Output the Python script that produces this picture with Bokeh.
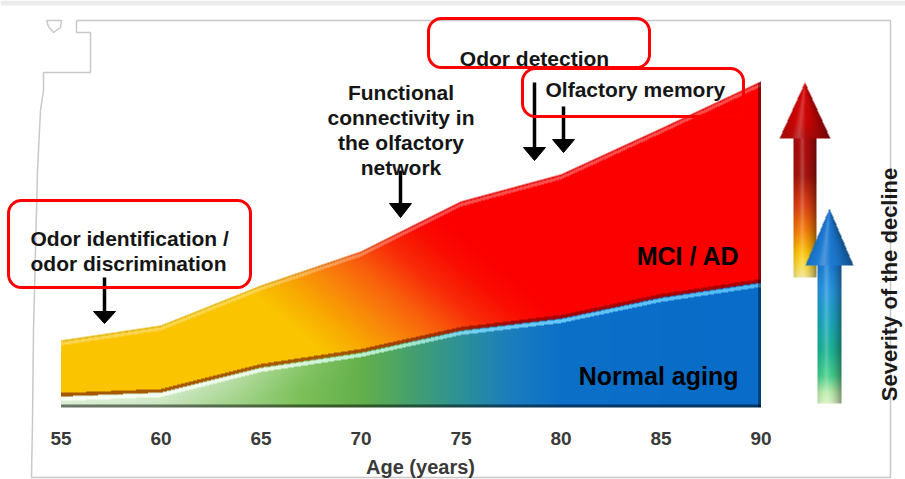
import numpy as np
from bokeh.plotting import figure
from bokeh.models import Range1d, BoxAnnotation
from bokeh.embed import file_html
from bokeh.resources import INLINE
from bokeh.core.properties import value

# ---------------- data ----------------
ages = [55, 60, 65, 70, 75, 80, 85, 90]
normal_aging = [11, 15, 40, 55, 77, 89, 110, 125]      # top of "Normal aging" band
mci_ad = [67, 82, 122, 156, 206, 233, 279, 326]        # top of "MCI / AD" band (stacked)
tick_labels = ["55", "60", "65", "70", "75", "80", "85", "90"]
x_title = "Age (years)"
y_title = "Severity of the decline"
band_labels = ["MCI / AD", "Normal aging"]
ann_ident = ["Odor identification /", "odor discrimination"]
ann_func = ["Functional", "connectivity in", "the olfactory", "network"]
ann_detect = "Odor detection"
ann_memory = "Olfactory memory"

FONT = value("Liberation Sans")

# ---------------- layout helpers (screen px -> data) ----------------
PXY = 20.0                      # px per year
X0 = 55 - 60.5 / PXY
BASE = 407.0


def X(px):
    return X0 + px / PXY


def Y(py):
    return BASE - py


p = figure(width=905, height=479, x_range=Range1d(X(0), X(905)),
           y_range=Range1d(Y(479), Y(0)), output_backend="svg",
           toolbar_location=None, tools="", min_border=0,
           x_axis_type=None, y_axis_type=None)
p.grid.visible = False
p.outline_line_color = None
p.background_fill_color = "white"
p.border_fill_color = "white"


def ramp(t, ts, cs):
    cs = np.asarray(cs, float)
    return np.stack([np.interp(t, ts, cs[:, k]) for k in range(3)], axis=-1)


def pack(rgb, alpha):
    h, w = alpha.shape
    img = np.empty((h, w), dtype=np.uint32)
    v = img.view(dtype=np.uint8).reshape((h, w, 4))
    rgb = np.clip(rgb, 0, 255)
    v[..., 0] = rgb[..., 0]
    v[..., 1] = rgb[..., 1]
    v[..., 2] = rgb[..., 2]
    v[..., 3] = np.clip(alpha, 0, 255)
    return img


# ---------------- frame decoration ----------------
p.quad(left=X(0), right=X(905), top=Y(0), bottom=Y(5), color="#ebebeb", line_color=None)
frame_px = [(76, 20), (890, 20), (890, 477), (31, 477), (32, 420), (33, 330), (35, 250),
            (37, 170), (40, 110), (43, 90), (43, 72), (90, 72), (90, 32), (76, 32), (76, 20)]
p.line([X(a) for a, b in frame_px], [Y(b) for a, b in frame_px], line_color="#c8c8c8", line_width=1.5)
notch_px = [(46, 20), (61, 20), (60, 27), (53, 32), (48, 26), (46, 20)]
p.line([X(a) for a, b in notch_px], [Y(b) for a, b in notch_px], line_color="#c8c8c8", line_width=1.5)

# ---------------- gradient stacked areas ----------------
Wn, Hn = 700, 335
xa = ages[0] + (np.arange(Wn) + 0.5) * (ages[-1] - ages[0]) / Wn
hy = np.arange(Hn) + 0.5
A, Hh = np.meshgrid(xa, hy)
tn = np.interp(xa, ages, normal_aging)[None, :]
tm = np.interp(xa, ages, mci_ad)[None, :]

s = A + 0.06 * (Hh - 100)
rgb_m = ramp(s, [65.5, 67.5, 70, 72.5, 75, 77.5, 79.5],
             [(250, 196, 0), (248, 172, 0), (248, 135, 10), (248, 95, 12),
              (248, 45, 8), (250, 12, 2), (252, 0, 0)])
rgb_n = ramp(A, [55, 60, 64, 67, 70, 72.5, 75, 77.5, 80, 90],
             [(195, 228, 185), (185, 222, 170), (160, 210, 135), (125, 192, 90),
              (100, 176, 75), (70, 160, 110), (45, 145, 150), (28, 125, 190),
              (12, 112, 200), (8, 108, 200)])
d_n = tn - Hh
w = (np.clip(1 - d_n / 30, 0, 1) * np.clip((70 - A) / 12, 0, 1) * 0.5)[..., None]
rgb_n = rgb_n * (1 - w) + 255 * w
hl = ((d_n >= 0.8) & (d_n < 4.5))[..., None]
hl_col = ramp(A, [55, 65, 72, 76, 90],
              [(250, 255, 250), (235, 250, 230), (170, 235, 200), (110, 205, 245), (80, 185, 245)])
rgb_n = np.where(hl, hl_col, rgb_n)

d_m = tm - Hh
d_b = Hh - tn
top_hl = ((d_m >= 1.5) & (d_m < 5))[..., None]
rgb_m = np.where(top_hl, rgb_m + (255 - rgb_m) * 0.3, rgb_m)
top_edge = ((d_m >= 0) & (d_m < 1.5))[..., None]
rgb_m = np.where(top_edge, rgb_m * 0.9, rgb_m)
bot = ((d_b >= 0) & (d_b < 3.5))[..., None]
rgb_m = np.where(bot, rgb_m * np.array([0.66, 0.45, 0.35]), rgb_m)

in_n = Hh <= tn
rgb = np.where(in_n[..., None], rgb_n, rgb_m)
cover = np.clip(tm - Hh + 0.5, 0, 1)
alpha = 255 * cover
base = (Hh < 3)[..., None]
rgb = np.where(base, rgb * 0.5, rgb)
right = (A > 89.85)[..., None]
rgb = np.where(right, rgb * 0.6, rgb)
p.image_rgba(image=[pack(rgb, alpha)], x=ages[0], y=0, dw=ages[-1] - ages[0], dh=Hn)


# ---------------- severity arrows (right) ----------------
def arrow_img(cx, tip, hbase, bottom, sw, hw, ys, cs):
    left = cx - hw / 2 - 1
    wpx = int(np.ceil(hw + 2))
    hpx = int(np.ceil(bottom - tip))
    PX, PY = np.meshgrid(left + np.arange(wpx) + 0.5, bottom - (np.arange(hpx) + 0.5))
    dx = PX - cx
    shaft = (np.abs(dx) <= sw / 2) & (PY >= hbase) & (PY <= bottom)
    half = hw / 2 * np.clip((PY - tip) / (hbase - tip), 0, 1)
    head = (PY >= tip) & (PY < hbase) & (np.abs(dx) <= half)
    mask = shaft | head
    col = ramp(PY, ys, cs)
    halfw = np.where(head, np.maximum(half, 1), sw / 2)
    f = dx / halfw
    shade = 1.0 - 0.38 * np.clip(f, 0, 1) ** 1.5 - 0.25 * np.clip(-f - 0.6, 0, 1)
    col = col * shade[..., None]
    hi = np.clip(1 - np.abs(f + 0.25) / 0.3, 0, 1)[..., None] * 0.22
    col = col * (1 - hi) + 255 * hi
    return pack(col, np.where(mask, 255, 0)), left, wpx, hpx


img, l, wpx, hpx = arrow_img(804.5, 82, 138, 277, 22, 51,
                             [82, 120, 138, 175, 205, 230, 252, 266, 277],
                             [(215, 10, 10), (205, 5, 5), (175, 10, 10), (165, 20, 15),
                              (220, 65, 20), (242, 125, 10), (250, 195, 10),
                              (248, 218, 70), (240, 226, 140)])
p.image_rgba(image=[img], x=X(l), y=Y(277), dw=wpx / PXY, dh=hpx)
img, l, wpx, hpx = arrow_img(829, 208, 265, 403, 24, 48,
                             [208, 265, 290, 320, 350, 375, 392, 403],
                             [(25, 115, 205), (30, 125, 212), (40, 150, 222), (30, 165, 190),
                              (30, 180, 150), (70, 205, 140), (185, 235, 170), (215, 240, 195)])
p.image_rgba(image=[img], x=X(l), y=Y(403), dw=wpx / PXY, dh=hpx)

# ---------------- annotation boxes ----------------
for (l_, t_, r_, b_) in [(8, 200, 250, 287), (428, 18, 649, 67), (522, 68, 743, 116)]:
    p.add_layout(BoxAnnotation(left=X(l_), right=X(r_), top=Y(t_), bottom=Y(b_),
                               fill_alpha=0, line_color="#ff0000", line_alpha=1.0,
                               line_width=3, border_radius=13))

# ---------------- black arrows ----------------
arrows_px = [(104, 277, 311, 323), (400, 170, 203, 217), (534, 82, 147, 160), (563, 106, 139, 152)]
p.segment(x0=[X(a[0]) for a in arrows_px], y0=[Y(a[1]) for a in arrows_px],
          x1=[X(a[0]) for a in arrows_px], y1=[Y(a[2] + 1) for a in arrows_px],
          line_color="black", line_width=3.5)
p.patches(xs=[[X(a[0] - 11), X(a[0] + 11), X(a[0])] for a in arrows_px],
          ys=[[Y(a[2]), Y(a[2]), Y(a[3])] for a in arrows_px],
          color="black", line_color="black")

# ---------------- texts ----------------
p.text(x=ages, y=[Y(438)] * len(ages), text=tick_labels, text_font=FONT, text_font_style="bold",
       text_font_size="19px", text_color="#3a3a3a", text_align="center", text_baseline="alphabetic")
p.text(x=[X(420)], y=[Y(466)], text=[x_title], text_font=FONT, text_font_style="bold",
       text_font_size="20px", text_color="#3a3a3a", text_align="center", text_baseline="alphabetic")
p.text(x=[X(889)], y=[Y(284)], text=[y_title], angle=np.pi / 2, text_font=FONT,
       text_font_style="bold", text_font_size="22px", text_color="#1a1a1a",
       text_align="center", text_baseline="alphabetic")
p.text(x=[X(739), X(738)], y=[Y(255), Y(375)], text=band_labels, text_font=FONT,
       text_font_style="bold", text_font_size="25px", text_color="black",
       text_align="right", text_baseline="alphabetic")
p.text(x=[X(30)] * 2, y=[Y(238), Y(263)], text=ann_ident, text_font=FONT, text_font_style="bold",
       text_font_size="21px", text_color="#151515", text_align="left", text_baseline="alphabetic")
p.text(x=[X(400.5)] * 4, y=[Y(92), Y(117), Y(142), Y(167)], text=ann_func, text_font=FONT,
       text_font_style="bold", text_font_size="21px", text_color="#151515",
       text_align="center", text_baseline="alphabetic")
p.text(x=[X(534)], y=[Y(58)], text=[ann_detect], text_font=FONT, text_font_style="bold",
       text_font_size="21px", text_color="#151515", text_align="center", text_baseline="alphabetic")
p.text(x=[X(545)], y=[Y(89)], text=[ann_memory], text_font=FONT, text_font_style="bold",
       text_font_size="21px", text_color="#151515", text_align="left", text_baseline="alphabetic")

open("out.html", "w").write(file_html(p, INLINE))
